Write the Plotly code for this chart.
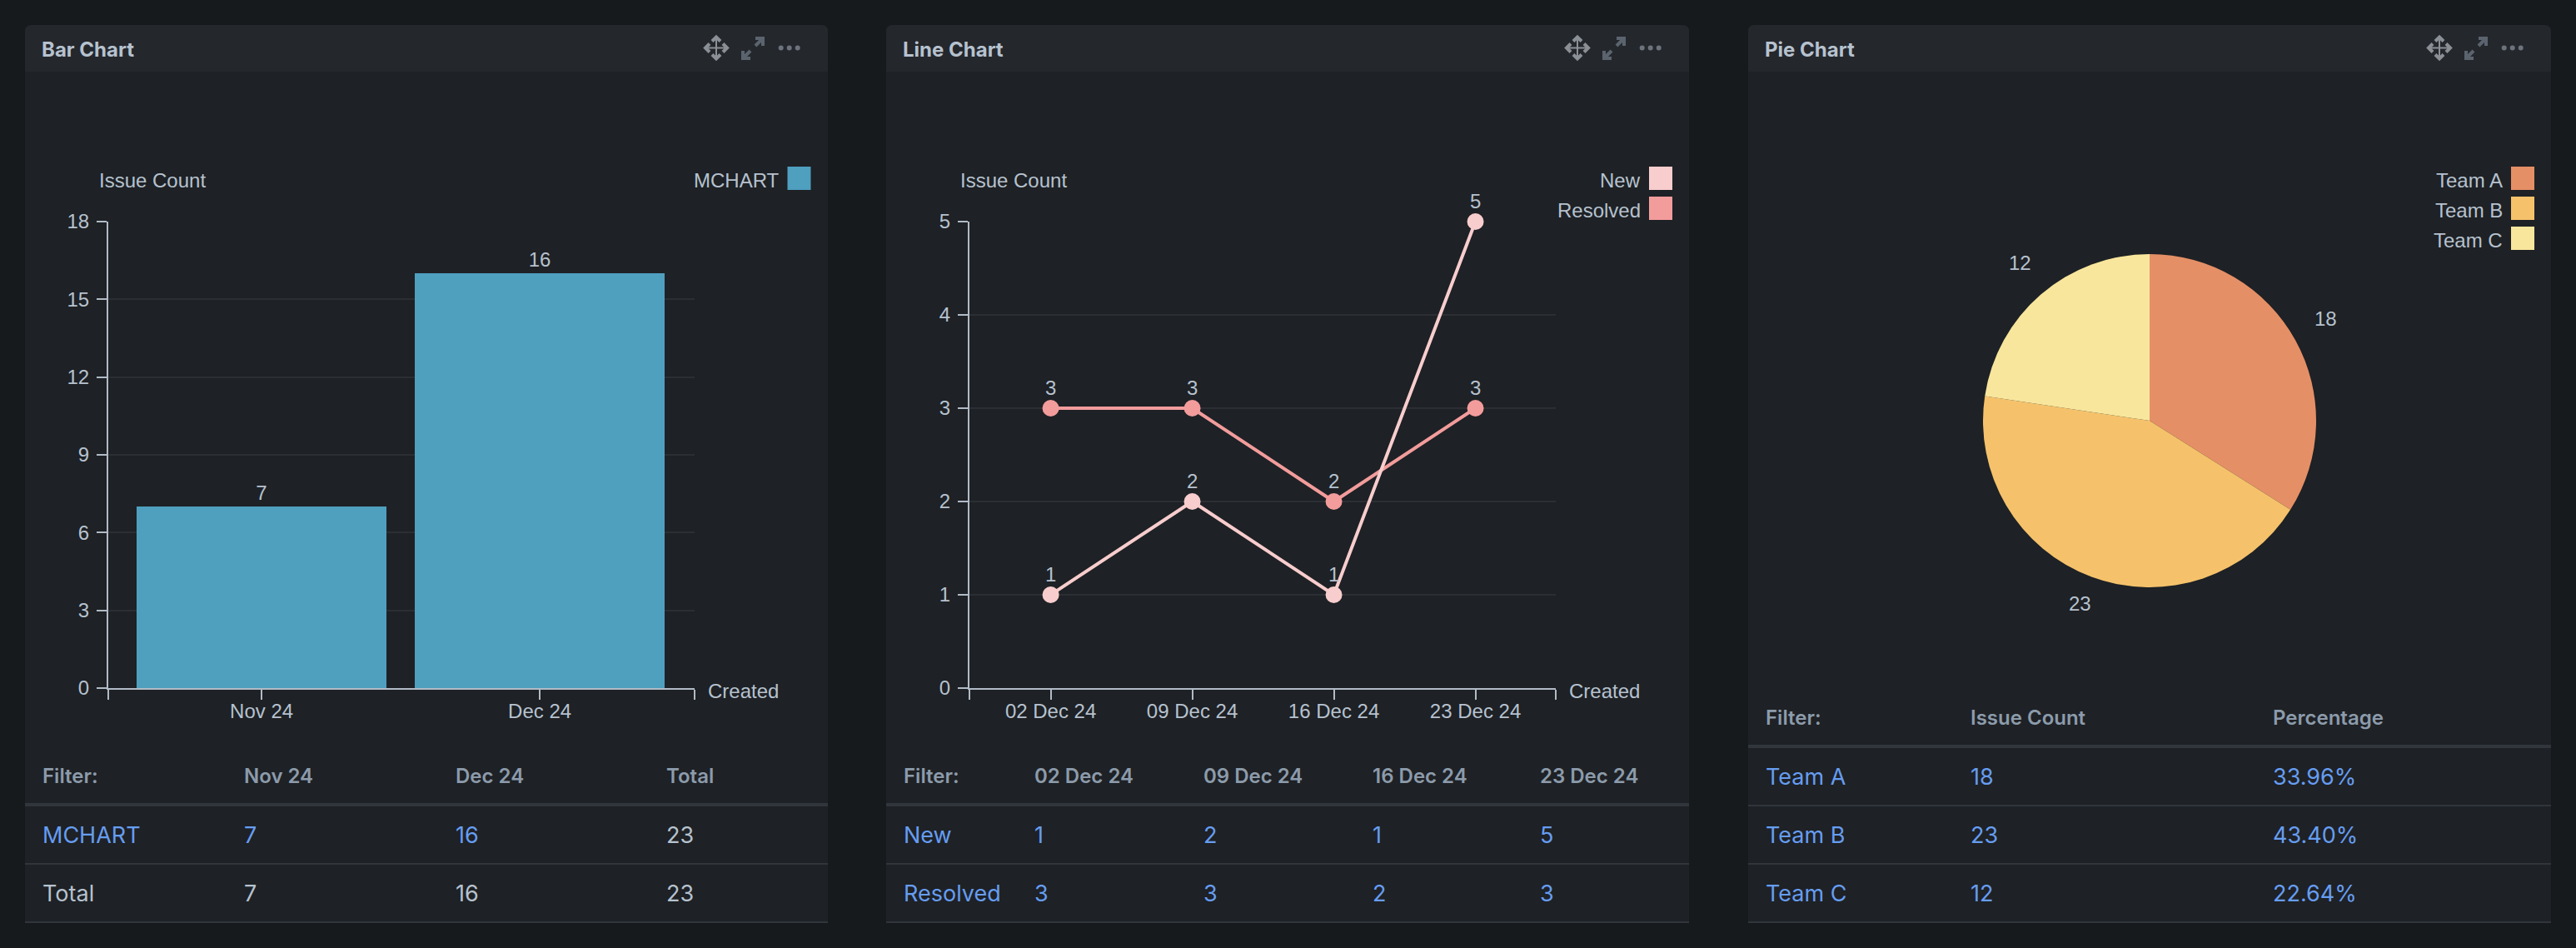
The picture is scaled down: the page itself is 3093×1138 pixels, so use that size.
import plotly.graph_objects as go
import math

# Data
bar_labels = ["Nov 24", "Dec 24"]
bar_series = "MCHART"
bar_values = [7, 16]

line_labels = ["02 Dec 24", "09 Dec 24", "16 Dec 24", "23 Dec 24"]
new_values = [1, 2, 1, 5]
resolved_values = [3, 3, 2, 3]

pie_labels = ["Team A", "Team B", "Team C"]
pie_values = [18, 23, 12]
pie_percents = ["33.96%", "43.40%", "22.64%"]

# Colours
PAGE = "#161a1d"
PANEL = "#1e2125"
HEAD = "#24272c"
TEXT = "#b6c2cf"
MUTED = "#8c9bab"
LINK = "#669df1"
RULE = "#30363c"
GRID = "#2b2f33"
AXIS = "#b1bbc6"
BAR = "#4f9fbf"
NEW = "#f8cdcd"
RESOLVED = "#f39c9c"
PIE = ["#e58f66", "#f5c26b", "#f8e69c"]

W, H = 3093, 1138
CHART_FONT = "Liberation Sans"
UI_FONT = "Inter"


def px(x):
    return x / W


def py(y):
    return 1 - y / H


shapes = []
annotations = []


def rect(x0, y0, x1, y1, color):
    shapes.append(dict(type="rect", xref="paper", yref="paper", x0=px(x0), x1=px(x1),
                       y0=py(y0), y1=py(y1), fillcolor=color, line_width=0, layer="below"))


def stroke(points, color, width):
    d = "M" + " L".join(f"{px(x):.6f},{py(y):.6f}" for x, y in points)
    shapes.append(dict(type="path", xref="paper", yref="paper", path=d,
                       line=dict(color=color, width=width), layer="below"))


def label(x, y, text, color=TEXT, size=24, family=CHART_FONT, anchor="left", weight=None):
    # annotations carry a small default pad, so pull left anchored text back
    shift = {"left": -2, "right": 2, "center": 0}[anchor]
    annotations.append(dict(xref="paper", yref="paper", x=px(x + shift), y=py(y), text=text,
                            showarrow=False, xanchor=anchor, yanchor="middle",
                            font=dict(color=color, size=size, family=family, weight=weight)))


def panel(left, title):
    right = left + 964
    r = 8
    pts = f"M{px(left)},{py(1107)} L{px(left)},{py(30 + r)} Q{px(left)},{py(30)} {px(left + r)},{py(30)} " \
          f"L{px(right - r)},{py(30)} Q{px(right)},{py(30)} {px(right)},{py(30 + r)} L{px(right)},{py(1107)} Z"
    shapes.append(dict(type="path", xref="paper", yref="paper", path=pts, fillcolor=PANEL,
                       line_width=0, layer="below"))
    head = f"M{px(left)},{py(86)} L{px(left)},{py(30 + r)} Q{px(left)},{py(30)} {px(left + r)},{py(30)} " \
           f"L{px(right - r)},{py(30)} Q{px(right)},{py(30)} {px(right)},{py(30 + r)} L{px(right)},{py(86)} Z"
    shapes.append(dict(type="path", xref="paper", yref="paper", path=head, fillcolor=HEAD,
                       line_width=0, layer="below"))
    label(left + 20, 59, title, size=24, family=UI_FONT, weight=700)

    # move icon
    cx, cy = left + 830, 57.5
    grey = "#8b9096"
    stroke([(cx - 12, cy), (cx + 12, cy)], grey, 2)
    stroke([(cx, cy - 12), (cx, cy + 12)], grey, 2)
    for dx, dy in [(1, 0), (-1, 0), (0, 1), (0, -1)]:
        tip = (cx + dx * 13, cy + dy * 13)
        a = (cx + dx * 8 + dy * 5, cy + dy * 8 + dx * 5)
        b = (cx + dx * 8 - dy * 5, cy + dy * 8 - dx * 5)
        stroke([a, tip, b], grey, 4)

    # expand icon
    ex = left + 874
    steel = "#5b646e"
    stroke([(ex - 12, 70), (ex - 3, 61)], steel, 4)
    stroke([(ex - 12, 61), (ex - 12, 70), (ex - 3, 70)], steel, 4)
    stroke([(ex + 3, 55), (ex + 12, 46)], steel, 4)
    stroke([(ex + 3, 46), (ex + 12, 46), (ex + 12, 55)], steel, 4)

    # dots
    for dx in (907.7, 917.7, 927.7):
        shapes.append(dict(type="circle", xref="paper", yref="paper",
                           x0=px(left + dx - 3), x1=px(left + dx + 3),
                           y0=py(60.5), y1=py(54.5), fillcolor="#6c737c", line_width=0, layer="below"))


def table(left, columns, head_row, rows, head_y=931, row_ys=(1002, 1072), lines=(966, 1037, 1107)):
    right = left + 964
    for x, t in zip(columns, head_row):
        label(x, head_y, t, color=MUTED, size=24, family=UI_FONT, weight=600)
    for y, row in zip(row_ys, rows):
        for x, (t, c) in zip(columns, row):
            label(x, y, str(t), color=c, size=27, family=UI_FONT)
    for i, y in enumerate(lines):
        rect(left, y - (2 if i == 0 else 1), right, y + (2 if i == 0 else 1), RULE)


def legend_item(swatch_x, top, text, color):
    rect(swatch_x, top, swatch_x + 28, top + 28, color)
    label(swatch_x - 10, top + 16.5, text, anchor="right")


# Panels
panel(30, "Bar Chart")
panel(1064, "Line Chart")
panel(2099, "Pie Chart")

fig = go.Figure()

# Bar chart
fig.add_trace(go.Bar(x=bar_labels, y=bar_values, text=bar_values, textposition="outside",
                     marker=dict(color=BAR, line_width=0), width=0.898, cliponaxis=False,
                     textfont=dict(color=TEXT, size=24, family=CHART_FONT),
                     xaxis="x", yaxis="y", showlegend=False, hoverinfo="skip"))

# Line chart
for name, values, color in [("Resolved", resolved_values, RESOLVED), ("New", new_values, NEW)]:
    fig.add_trace(go.Scatter(x=line_labels, y=values, name=name, mode="lines+markers", cliponaxis=False,
                             line=dict(color=color, width=4), marker=dict(color=color, size=20),
                             xaxis="x2", yaxis="y2", showlegend=False, hoverinfo="skip"))
    for day, value in zip(line_labels, values):
        annotations.append(dict(xref="x2", yref="y2", x=day, y=value, text=str(value), showarrow=False,
                                yshift=25, yanchor="middle",
                                font=dict(color=TEXT, size=24, family=CHART_FONT)))

# Pie chart
pie_cx, pie_cy, pie_r = 2581, 505, 200
fig.add_trace(go.Pie(labels=pie_labels, values=pie_values, sort=False, direction="clockwise",
                     rotation=0, textinfo="none", showlegend=False, hoverinfo="skip",
                     marker=dict(colors=PIE, line_width=0),
                     domain=dict(x=[px(pie_cx - pie_r), px(pie_cx + pie_r)],
                                 y=[py(pie_cy + pie_r), py(pie_cy - pie_r)])))

# Pie value labels
total = sum(pie_values)
start = 0
for value, reach, (nudge_x, nudge_y) in zip(pie_values, (244, 234, 245), ((-2, -5), (-2, 0), (4, -4))):
    mid = (start + value / 2) / total * 2 * math.pi
    label(pie_cx + reach * math.sin(mid) + nudge_x, pie_cy - reach * math.cos(mid) + nudge_y,
          str(value), anchor="center")
    start += value

# Axis captions and legends
label(119, 216.5, "Issue Count")
label(1153, 216.5, "Issue Count")
label(850, 829, "Created")
label(1884, 829, "Created")
legend_item(945.5, 200, bar_series, BAR)
legend_item(1980, 200, "New", NEW)
legend_item(1980, 236, "Resolved", RESOLVED)
for i, (name, color) in enumerate(zip(pie_labels, PIE)):
    legend_item(3015, 200 + i * 36, name, color)

# Tables
table(30, [50.5, 293, 546.5, 800], ["Filter:"] + bar_labels + ["Total"],
      [[(bar_series, LINK)] + [(v, LINK) for v in bar_values] + [(sum(bar_values), TEXT)],
       [("Total", TEXT)] + [(v, TEXT) for v in bar_values] + [(sum(bar_values), TEXT)]])
table(1064, [1084.5, 1242, 1445, 1648, 1848.5], ["Filter:"] + line_labels,
      [[("New", LINK)] + [(v, LINK) for v in new_values],
       [("Resolved", LINK)] + [(v, LINK) for v in resolved_values]])
table(2099, [2119.5, 2365.5, 2729], ["Filter:", "Issue Count", "Percentage"],
      [[(n, LINK), (v, LINK), (p, LINK)] for n, v, p in zip(pie_labels, pie_values, pie_percents)],
      head_y=861, row_ys=(932, 1002, 1072), lines=(896, 967, 1037, 1107))

tick_font = dict(color=TEXT, size=24, family=CHART_FONT)
y_common = dict(showline=True, linecolor=AXIS, linewidth=2, ticks="outside", ticklen=12, tickwidth=2,
                tickcolor=AXIS, tickfont=tick_font, gridcolor=GRID, gridwidth=2, showgrid=True,
                zeroline=False, ticklabelstandoff=4)
x_common = dict(showline=True, linecolor=AXIS, linewidth=2, ticks="outside", ticklen=12, tickwidth=2,
                tickcolor=AXIS, tickfont=tick_font, showgrid=False, zeroline=False,
                type="category", ticklabelstandoff=-7)

fig.update_layout(
    width=W,
    height=H,
    margin=dict(l=0, r=0, t=0, b=0, pad=0, autoexpand=False),
    paper_bgcolor=PAGE,
    plot_bgcolor="rgba(0,0,0,0)",
    shapes=shapes,
    annotations=annotations,
    bargap=0,
    xaxis=dict(domain=[px(130), px(833.5)], anchor="y", range=[-0.551, 1.555],
               tickmode="array", tickvals=[-0.551, 0, 1, 1.555], ticktext=[""] + bar_labels + [""],
               **x_common),
    yaxis=dict(domain=[py(826), py(266)], anchor="x", range=[0, 18], dtick=3, **y_common),
    xaxis2=dict(domain=[px(1164), px(1867.6)], anchor="y2", range=[-0.574, 3.565],
                tickmode="array", tickvals=[-0.574, 0, 1, 2, 3, 3.565],
                ticktext=[""] + line_labels + [""], **x_common),
    yaxis2=dict(domain=[py(826), py(266)], anchor="x2", range=[0, 5], dtick=1, **y_common),
)

fig.write_html("out.html", config=dict(displayModeBar=False),
               post_script=f"document.body.style.margin='0';document.body.style.background='{PAGE}';"
                           "document.body.style.overflow='hidden';")
